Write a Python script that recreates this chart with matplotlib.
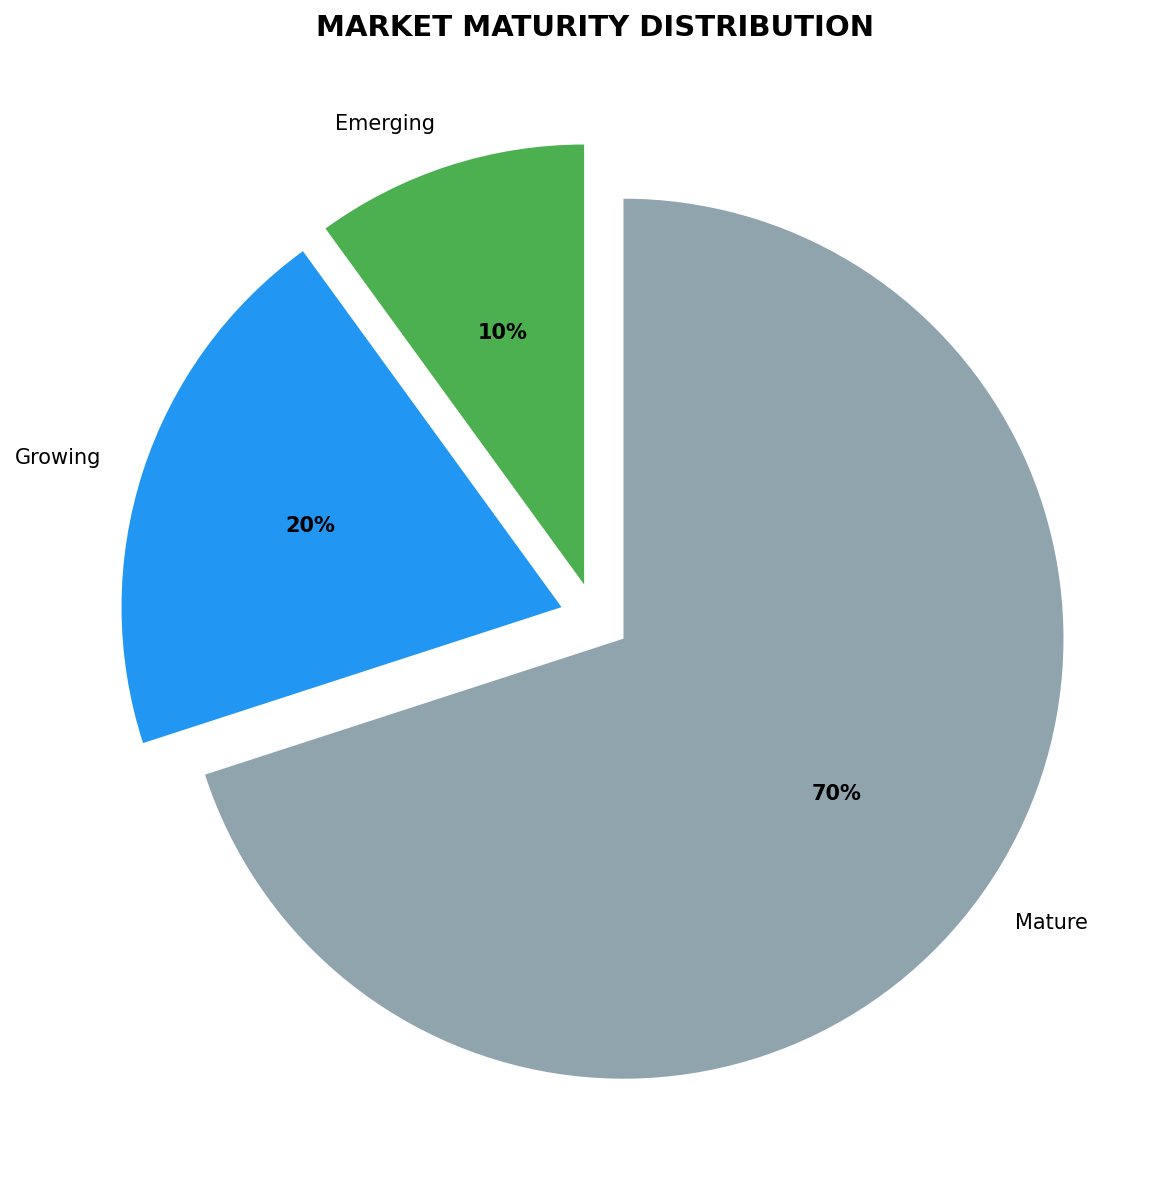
import matplotlib
matplotlib.use("Agg")
import matplotlib.pyplot as plt

# data
labels = ["Mature", "Growing", "Emerging"]
shares = [70, 20, 10]
colors = ["#90A4AE", "#2196F3", "#4CAF50"]
explode = [0.08, 0.08, 0.08]

W, H, DPI = 1160, 1184, 120
fig = plt.figure(figsize=(W / DPI, H / DPI), dpi=DPI)
ax = fig.add_axes([0, 0, 1, 1])

wedges, texts, autotexts = ax.pie(
    shares, labels=labels, colors=colors, explode=explode,
    startangle=90, counterclock=False, autopct="%1.0f%%",
    textprops={"fontsize": 12.5},
)
for t in autotexts:
    t.set_fontweight("bold")

# place pie: radius 440 px, center at (595, 618) from top-left
r_px = 440
cx, cy = 595, H - 618
ax.set_xlim(-cx / r_px, (W - cx) / r_px)
ax.set_ylim(-cy / r_px, (H - cy) / r_px)
ax.set_aspect("auto")
ax.axis("off")

fig.text(595 / W, 1 - 28 / H, "MARKET MATURITY DISTRIBUTION",
         ha="center", va="center", fontsize=17.5, fontweight="bold")

fig.savefig("out.png", dpi=DPI)
